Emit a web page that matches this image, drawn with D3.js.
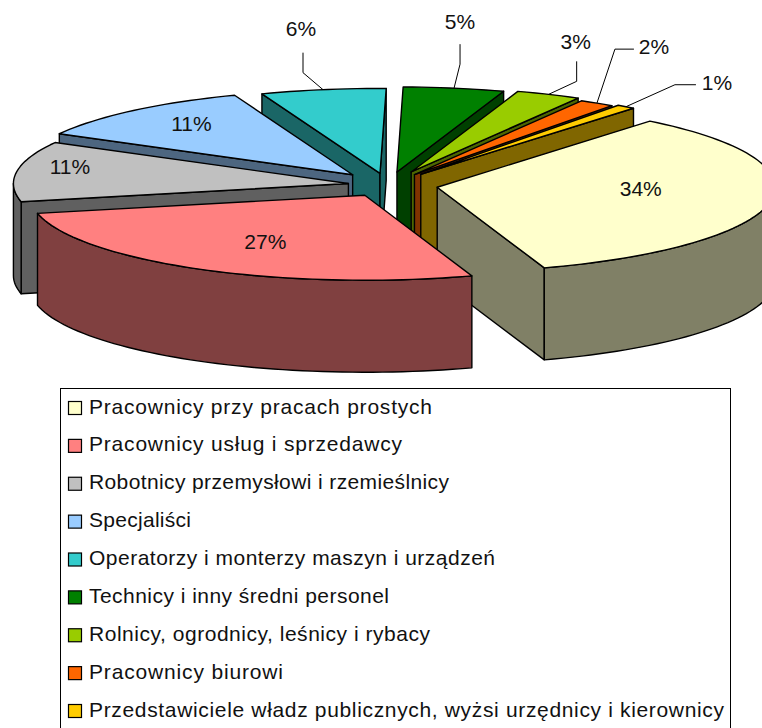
<!DOCTYPE html>
<html lang="pl">
<head>
<meta charset="utf-8">
<title>Pracownicy</title>
<script src="https://cdn.jsdelivr.net/npm/d3@7"></script>
<style>
  html, body { margin: 0; padding: 0; background: #fff; overflow: hidden; }
  svg { display: block; }
  text { font-family: "Liberation Sans", Arial, sans-serif; fill: #111; }
</style>
</head>
<body>
<script>
// data
var categories = [
  "Pracownicy przy pracach prostych",
  "Pracownicy usług i sprzedawcy",
  "Robotnicy przemysłowi i rzemieślnicy",
  "Specjaliści",
  "Operatorzy i monterzy maszyn i urządzeń",
  "Technicy i inny średni personel",
  "Rolnicy, ogrodnicy, leśnicy i rybacy",
  "Pracownicy biurowi",
  "Przedstawiciele władz publicznych, wyżsi urzędnicy i kierownicy"
];
var shares = [33.9, 26.6, 11.4, 11.2, 6.0, 4.8, 3.1, 1.7, 0.9];
var colors = ["#FFFFCC", "#FF8080", "#C0C0C0", "#99CCFF", "#33CCCC", "#008000", "#99CC00", "#FF6600", "#FFCC00"];

// layout of the exploded pie
var width = 762, height = 728;
var cx = 388, cy = 185, rxRight = 338, rxLeft = 335, ry = 85, depth = 92;
var firstAngle = 39 * Math.PI / 180;
var explode = [50, 47, 40, 54, 47, 53, 57, 49, 54];

// label position as a shift from the middle of the slice's rim,
// leaders go rim -> elbow -> end
var labelShift = [[-129, -14], [66, -28], [53, -5], [58, 13], [-22, -61], [6, -67], [27, -53], [57, -57], [91, -24]];
var leaders = [null, null, null, null,
  [[-20, -17], [-20, -37]],
  [[6, -24], [6, -44]],
  [[28, -13], [28, -33]],
  [[18, -54], [37, -54]],
  [[49, -22], [70, -22]]];

// the original spaces its legend text out, these are the widths it ends up with
var legendWidths = [343, 313, 360, 102, 406, 300, 341, 194, 635];

var svg = d3.select("body").append("svg")
  .attr("width", width)
  .attr("height", height);

var pie = d3.pie().sort(null).startAngle(firstAngle).endAngle(firstAngle + 2 * Math.PI);
var line = d3.line();

var slices = pie(shares).map(function(d, i) {
  var mid = (d.startAngle + d.endAngle) / 2;
  return {
    i: i,
    a0: d.startAngle,
    a1: d.endAngle,
    mid: mid,
    ox: cx + explode[i] * Math.sin(mid),
    oy: cy - explode[i] / 4 * Math.cos(mid)
  };
});

function rim(s, a) {
  var sin = Math.sin(a);
  return [s.ox + (sin < 0 ? rxLeft : rxRight) * sin, s.oy - ry * Math.cos(a)];
}

function down(p) {
  return [p[0], p[1] + depth];
}

function arcPoints(s, a0, a1) {
  var n = Math.max(2, Math.ceil((a1 - a0) / 0.03));
  return d3.range(n + 1).map(function(k) {
    return rim(s, a0 + (a1 - a0) * k / n);
  });
}

function wallColor(c) {
  var r = d3.rgb(c);
  return d3.rgb(r.r / 2, r.g / 2, r.b / 2).formatHex();
}

// back slices first, the two big front ones last
var order = slices.slice().sort(function(a, b) {
  return d3.descending(Math.cos(a.mid), Math.cos(b.mid));
});

var g = svg.append("g")
  .attr("stroke", "#000")
  .attr("stroke-width", 1.4)
  .attr("stroke-linejoin", "round");

order.forEach(function(s) {
  var wall = wallColor(colors[s.i]);
  var apex = [s.ox, s.oy];
  var walls = [];

  // radial sides facing the viewer
  if (Math.sin(s.a0) < 0) {
    var p0 = rim(s, s.a0);
    walls.push([apex, p0, down(p0), down(apex)]);
  }
  if (Math.sin(s.a1) > 0) {
    var p1 = rim(s, s.a1);
    walls.push([apex, p1, down(p1), down(apex)]);
  }

  // outer rim, only the part on the front half of the ellipse
  var turn = Math.floor(s.a0 / (2 * Math.PI)) * 2 * Math.PI;
  var from = Math.max(s.a0, turn + Math.PI / 2);
  var to = Math.min(s.a1, turn + 3 * Math.PI / 2);
  if (from < to) {
    var pts = arcPoints(s, from, to);
    walls.push(pts.concat(pts.slice().reverse().map(down)));
  }

  g.selectAll(null)
    .data(walls)
    .enter().append("path")
    .attr("fill", wall)
    .attr("d", function(d) { return line(d) + "Z"; });

  g.append("path")
    .attr("fill", colors[s.i])
    .attr("d", line([apex].concat(arcPoints(s, s.a0, s.a1))) + "Z");
});

// leaders
svg.append("g").selectAll("path")
  .data(slices.filter(function(s) { return leaders[s.i]; }))
  .enter().append("path")
  .attr("fill", "none")
  .attr("stroke", "#000")
  .attr("stroke-width", 1)
  .attr("d", function(s) {
    var p = rim(s, s.mid);
    return line([p].concat(leaders[s.i].map(function(o) {
      return [p[0] + o[0], p[1] + o[1]];
    })));
  });

// percent labels
svg.append("g").selectAll("text")
  .data(slices)
  .enter().append("text")
  .attr("text-anchor", "middle")
  .attr("dominant-baseline", "central")
  .attr("font-size", 21)
  .attr("x", function(s) { return rim(s, s.mid)[0] + labelShift[s.i][0]; })
  .attr("y", function(s) { return rim(s, s.mid)[1] + labelShift[s.i][1]; })
  .text(function(s) { return Math.round(shares[s.i]) + "%"; });

// legend, its lower edge falls below the picture
var legendY = d3.scalePoint()
  .domain(categories)
  .range([407, 710]);

svg.append("rect")
  .attr("x", 60.5)
  .attr("y", 388.5)
  .attr("width", 670)
  .attr("height", 350)
  .attr("fill", "#fff")
  .attr("stroke", "#000")
  .attr("stroke-width", 1);

var item = svg.append("g").selectAll("g")
  .data(categories)
  .enter().append("g")
  .attr("transform", function(d) { return "translate(0," + legendY(d) + ")"; });

item.append("rect")
  .attr("x", 68.5)
  .attr("y", -5.5)
  .attr("width", 13)
  .attr("height", 13)
  .attr("fill", function(d, i) { return colors[i]; })
  .attr("stroke", "#000")
  .attr("stroke-width", 1.2);

item.append("text")
  .attr("x", 89)
  .attr("y", -1)
  .attr("dominant-baseline", "central")
  .attr("font-size", 21)
  .attr("textLength", function(d, i) { return legendWidths[i]; })
  .attr("lengthAdjust", "spacing")
  .text(function(d) { return d; });
</script>
</body>
</html>
